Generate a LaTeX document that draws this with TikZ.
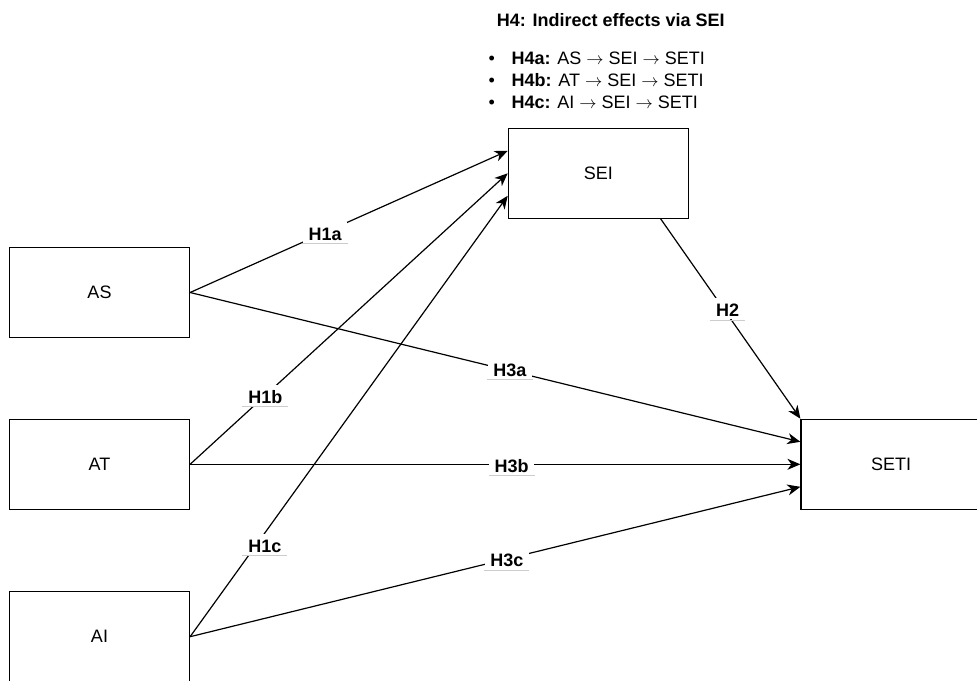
\documentclass[tikz,border=0pt]{standalone}
\usepackage{fontspec}
\setmainfont{Liberation Sans}
\usetikzlibrary{arrows.meta}
\begin{document}
\begin{tikzpicture}[x=1pt,y=-1pt,
  box/.style={draw=black, line width=1.2pt, minimum width=180pt, minimum height=90pt, inner sep=0pt, font=\fontsize{18}{21.6}\selectfont},
  conn/.style={line width=1.2pt, -{Stealth[length=13pt,width=11pt,inset=4pt]}},
  lbl/.style={fill=white, font=\bfseries\fontsize{18}{21.6}\selectfont, inner xsep=5.5pt, inner ysep=2.5pt, text height=16pt, text depth=0pt},
  uline/.style={draw=black!20, line width=0.8pt},
  txt/.style={anchor=base west, inner sep=0pt, font=\fontsize{18}{21.6}\selectfont}
]
\useasboundingbox (0,0) rectangle (977,680);
\clip (0,0) rectangle (977,680);

\node[box] (as) at (99.5,292.5) {AS};
\node[box] (at) at (99.5,464.3) {AT};
\node[box] (ai) at (99.5,636.7) {AI};
\node[box] (sei) at (598.3,173.3) {SEI};
\node[box] (seti) at (891,464.3) {SETI};

\node[txt,font=\bfseries\fontsize{18}{21.6}\selectfont] (h4) at (496.7,26.5) {H4: Indirect effects via SEI};
\node[txt] (h4a) at (488.5,64.8) {\makebox[23pt][l]{•}\textbf{H4a:} AS $\rightarrow$ SEI $\rightarrow$ SETI};
\node[txt] (h4b) at (488.5,86.5) {\makebox[23pt][l]{•}\textbf{H4b:} AT $\rightarrow$ SEI $\rightarrow$ SETI};
\node[txt] (h4c) at (488.5,108.2) {\makebox[23pt][l]{•}\textbf{H4c:} AI $\rightarrow$ SEI $\rightarrow$ SETI};

\draw[conn] (as.east) -- node[lbl,pos=0.425] (l1a) {H1a} ([yshift=22.5pt]sei.west);
\draw[conn] (at.east) -- node[lbl,pos=0.237] (l1b) {H1b} (sei.west);
\draw[conn] (ai.east) -- node[lbl,pos=0.21,xshift=8pt] (l1c) {H1c} ([yshift=-22.5pt]sei.west);
\draw[conn] ([xshift=62.4pt]sei.south) -- node[lbl,pos=0.45,xshift=4pt] (l2) {H2} (seti.north west);
\draw[conn] (as.east) -- node[lbl,pos=0.524,yshift=2pt] (l3a) {H3a} ([yshift=22.5pt]seti.west);
\draw[conn] (at.east) -- node[lbl,pos=0.527] (l3b) {H3b} (seti.west);
\draw[conn] (ai.east) -- node[lbl,pos=0.519] (l3c) {H3c} ([yshift=-22.5pt]seti.west);

\foreach \n in {l1a,l1b,l1c,l2,l3a,l3b,l3c}{
  \draw[uline] (\n.south west) -- (\n.south east);
}
\end{tikzpicture}
\end{document}
